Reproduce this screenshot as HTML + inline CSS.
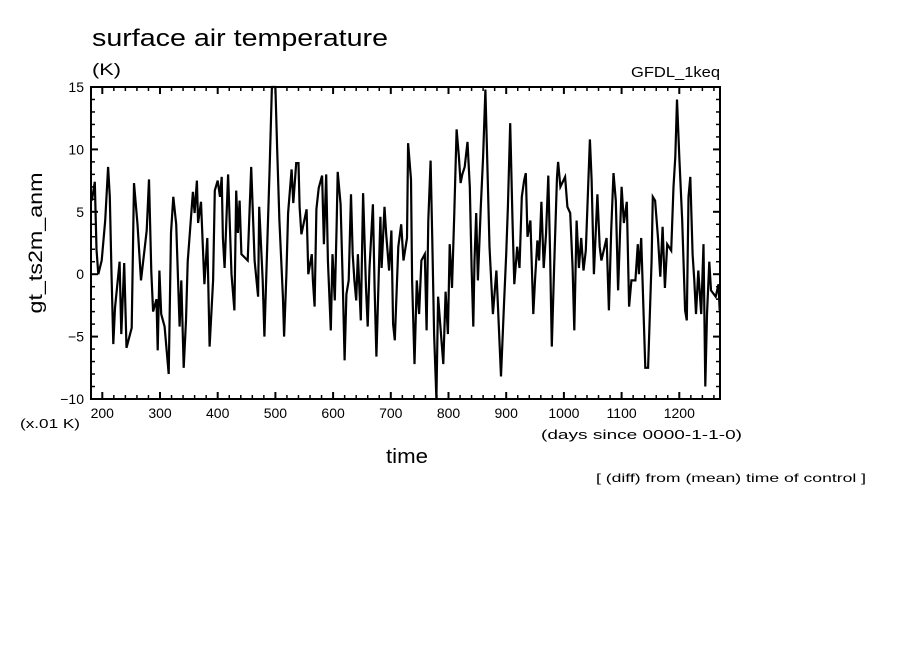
<!DOCTYPE html>
<html><head><meta charset="utf-8"><style>
html,body{margin:0;padding:0;background:#fff;}
svg{display:block;font-family:"Liberation Sans",sans-serif;}
</style></head><body>
<svg id="chart" width="904" height="654" viewBox="0 0 904 654">
<text x="92" y="46" font-size="24" textLength="296" lengthAdjust="spacingAndGlyphs">surface air temperature</text>
<text x="92" y="75" font-size="17" textLength="29" lengthAdjust="spacingAndGlyphs">(K)</text>
<text x="631" y="77" font-size="15" textLength="89" lengthAdjust="spacingAndGlyphs">GFDL_1keq</text>
<text transform="translate(42,243) rotate(-90)" font-size="19" text-anchor="middle" textLength="141" lengthAdjust="spacingAndGlyphs">gt_ts2m_anm</text>
<text x="20" y="428" font-size="13" textLength="60" lengthAdjust="spacingAndGlyphs">(x.01 K)</text>
<text x="541" y="439" font-size="13" textLength="201" lengthAdjust="spacingAndGlyphs">(days since 0000-1-1-0)</text>
<text x="386" y="463" font-size="20" textLength="42" lengthAdjust="spacingAndGlyphs">time</text>
<text x="596" y="482" font-size="12" textLength="270" lengthAdjust="spacingAndGlyphs">[ (diff) from (mean) time of control ]</text>
<g id="ticks"></g>
<g id="series"></g>
<rect x="91" y="87" width="629" height="312" fill="none" stroke="#000" stroke-width="2"/>
</svg>
<script>
const xTicks = [200,300,400,500,600,700,800,900,1000,1100,1200];
const yTicks = [15,10,5,0,-5,-10];
const days = [182,187,190,193,199,205,210,213,216,219,222,230,233,238,242,251,255,261,267,277,281,285,288,294,296,299,302,308,315,319,323,328,334,337,341,345,348,357,360,364,366,371,377,382,386,392,
395,400,404,407,409,412,418,424,429,432,435,438,441,452,458,464,470,472,478,481,490,494,500,503,507,513,515,519,522,528,531,536,540,542,545,554,557,563,565,568,571,575,581,584,588,591,596,599,603,606,608,613,617,620,623,627,631,634,637,640,643,648,652,657,660,663,669,672,675,682,684,689,692,
697,701,704,707,713,718,722,728,730,735,737,741,745,749,753,759,762,765,769,772,775,779,782,791,795,799,802,806,810,814,818,821,824,828,833,837,840,843,845,848,851,856,860,864,871,877,883,891,896,900,903,907,911,914,919,923,927,931,934,937,942,947,950,954,957,961,965,969,973,976,979,983,988,990,994,
1002,1006,1011,1015,1018,1022,1026,1030,1034,1038,1045,1048,1052,1058,1062,1065,1074,1078,1082,1086,1090,1094,1100,1104,1109,1113,1117,1124,1128,1130,1134,1141,1146,
1152,1154,1158,1163,1167,1171,1175,1179,1186,1190,1193,1196,1200,1205,1210,1213,1216,1219,1223,1226,1229,1233,1238,1242,1245,1248,1252,1255,1263,1268,1270];
const values = [5.9,7.4,2.0,0.0,1.1,4.3,8.6,6.2,0.1,-5.6,-2.7,1.0,-4.8,0.9,-5.9,-4.3,7.3,4.0,-0.5,3.5,7.6,0.2,-3.0,-2.0,-6.1,0.3,-3.2,-4.2,-8.0,3.3,6.2,4.0,-4.2,-0.5,-7.5,-3.7,1.0,6.6,4.9,7.5,4.1,5.8,-0.8,2.9,-5.8,-0.5,
6.7,7.5,6.2,7.8,2.9,0.5,8.0,0.0,-2.9,6.7,3.3,5.9,1.6,1.1,8.6,1.1,-1.8,5.4,-0.5,-5.0,8.4,15.0,15.0,10.2,4.3,-1.8,-5.0,0.0,4.9,8.4,5.7,8.9,8.9,5.4,3.2,5.2,0.0,1.6,-0.5,-2.6,5.2,6.9,7.9,2.4,8.0,1.1,-4.5,1.6,-2.1,3.8,8.2,5.6,-1.1,-6.9,-1.6,-0.5,6.4,1.6,-0.5,-2.1,1.6,-3.7,6.5,-1.1,-4.2,0.5,5.6,-1.1,-6.6,4.6,0.5,5.4,3.2,
0.3,3.5,-4.0,-5.3,2.2,4.0,1.1,2.9,10.5,7.6,-0.5,-7.2,-0.5,-3.2,1.1,1.6,-4.5,4.3,9.1,2.7,-4.8,-10.0,-1.8,-7.2,-1.4,-4.8,2.4,-1.1,4.9,11.6,9.4,7.3,8.0,8.6,10.6,7.0,0.5,-4.2,1.1,4.9,-0.5,5.4,9.4,14.8,2.2,-3.2,0.3,-8.2,-2.6,1.6,5.4,12.1,4.3,-0.8,2.2,0.5,6.2,7.5,8.1,3.0,4.3,-3.2,-0.5,2.7,1.1,5.8,0.5,3.2,7.9,1.6,-5.8,0.5,7.8,9.0,7.0,
7.8,5.4,4.9,0.5,-4.5,4.3,0.5,2.9,0.3,1.9,10.8,7.6,0.0,6.4,2.2,1.1,2.9,-2.9,3.5,8.1,5.9,-1.3,7.0,4.1,5.8,-2.6,-0.5,-0.5,2.4,0.0,2.9,-7.5,-7.5,
1.1,6.2,5.9,2.9,-0.2,3.8,-1.1,2.4,1.9,7.0,9.4,14.0,9.4,4.3,-2.9,-3.7,6.2,7.8,1.6,-0.5,-3.2,0.3,-3.2,2.4,-9.0,-3.2,1.0,-1.3,-1.8,-0.8,-2.9];

const X0=91, X1=720, Y0=87, Y1=399;
function xs(d){ return 160 + (d-300)*0.577; }
function ys(v){ return Y0 + (15 - v)*(Y1-Y0)/25; }
const NS='http://www.w3.org/2000/svg';
const tg=document.getElementById('ticks');
function line(x1,y1,x2,y2,w,name){
  const l=document.createElementNS(NS,'line');
  l.setAttribute('x1',x1);l.setAttribute('y1',y1);l.setAttribute('x2',x2);l.setAttribute('y2',y2);
  l.setAttribute('stroke','#000');l.setAttribute('stroke-width',w);
  
  
  tg.appendChild(l);
}
for(let d=180; d<=1270; d+=20){
  const x=xs(d); if(x<X0||x>X1) continue;
  const maj = d%100===0, L = maj?7:4;
  line(x,Y1,x,Y1-L,maj?2:1.5,'x-tick');
  line(x,Y0,x,Y0+L,maj?2:1.5,'x-tick-top');
}
xTicks.forEach(d=>{
  const t=document.createElementNS(NS,'text');
  t.setAttribute('x',xs(d));t.setAttribute('y',418);
  t.setAttribute('text-anchor','middle');t.setAttribute('font-size','14');
  t.textContent=d;
  
  
  tg.appendChild(t);
});
for(let v=-10; v<=15; v+=1){
  const y=ys(v), maj=v%5===0, L=maj?7:4;
  line(X0,y,X0+L,y,maj?2:1.5,'y-tick');
  line(X1,y,X1-L,y,maj?2:1.5,'y-tick-right');
}
yTicks.forEach(v=>{
  const t=document.createElementNS(NS,'text');
  t.setAttribute('x',84);t.setAttribute('y',ys(v)+5);
  t.setAttribute('text-anchor','end');t.setAttribute('font-size','14');
  t.textContent = v<0 ? '\u2212'+Math.abs(v) : String(v);
  
  
  tg.appendChild(t);
});
const sg=document.getElementById('series');
const p=document.createElementNS(NS,'polyline');
p.setAttribute('points', days.map((d,i)=>xs(d).toFixed(1)+','+ys(values[i]).toFixed(1)).join(' '));
p.setAttribute('fill','none');p.setAttribute('stroke','#000');p.setAttribute('stroke-width','2.2');


sg.appendChild(p);
</script>
</body></html>
